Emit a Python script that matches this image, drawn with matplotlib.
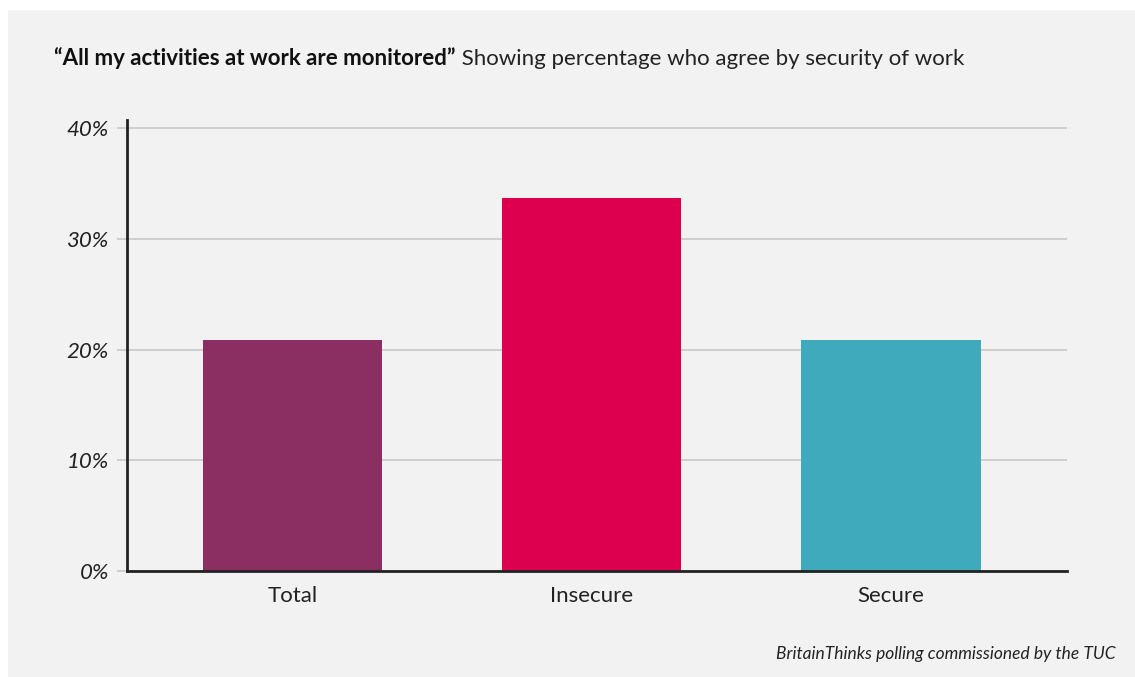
import matplotlib
matplotlib.use("Agg")
import matplotlib.pyplot as plt
from matplotlib.patches import Rectangle

categories = ["Total", "Insecure", "Secure"]
values = [20.9, 33.7, 20.9]
colors = ["#8b2e62", "#dc004e", "#3eaabc"]
yticks = [0, 10, 20, 30, 40]
ytick_labels = ["0%", "10%", "20%", "30%", "40%"]

plt.rcParams["font.family"] = ["Lato", "DejaVu Sans"]

W, H = 1135, 677
fig = plt.figure(figsize=(W / 100, H / 100), dpi=100)
fig.patch.set_facecolor("white")
fig.patches.append(Rectangle((8 / W, 0), 1, 1 - 10 / H, transform=fig.transFigure,
                             facecolor="#f2f2f2", edgecolor="none", zorder=-10))

ax = fig.add_axes([127 / W, 1 - 571 / H, (1067 - 127) / W, (571 - 120) / H])
ax.set_facecolor("none")

x = list(range(len(categories)))
ax.bar(x, values, width=0.6, color=colors, zorder=3)

ax.set_xlim(-0.554, 2.589)
ax.set_ylim(0, 40.75)
ax.set_yticks(yticks)
ax.set_yticklabels(ytick_labels, fontsize=16, style="italic", color="#222222")
ax.set_xticks(x)
ax.set_xticklabels(categories, fontsize=16, color="#222222")
ax.tick_params(axis="x", length=0, pad=11)
ax.tick_params(axis="y", length=7.5, width=1.2, color="#c8c8c8", pad=5.5)

ax.yaxis.grid(True, color="#c8c8c8", linewidth=1.2, zorder=0)
ax.set_axisbelow(True)

for s in ["top", "right"]:
    ax.spines[s].set_visible(False)
for s in ["left", "bottom"]:
    ax.spines[s].set_color("#222222")
    ax.spines[s].set_linewidth(2)
    ax.spines[s].set_zorder(4)

t1 = fig.text(54 / W, 1 - 58 / H, "\u201cAll my activities at work are monitored\u201d",
              fontsize=16, fontweight="bold", color="#111111", va="center", ha="left")
ax.annotate(" Showing percentage who agree by security of work", xy=(1, 0), xycoords=t1,
            fontsize=16, color="#222222", va="bottom", ha="left", annotation_clip=False)

fig.text(1116 / W, 1 - 654 / H, "BritainThinks polling commissioned by the TUC",
         fontsize=12.5, style="italic", color="#222222", ha="right", va="center")

fig.savefig("out.png", dpi=100, facecolor=fig.get_facecolor())
